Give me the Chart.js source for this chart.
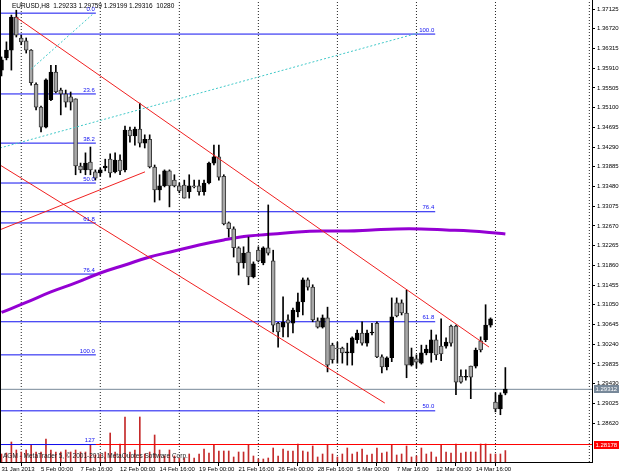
<!DOCTYPE html>
<html><head><meta charset="utf-8">
<script src="https://cdn.jsdelivr.net/npm/chart.js@4.4.1/dist/chart.umd.min.js"></script>
<style>html,body{margin:0;padding:0;background:#fff;}#wrap{width:625px;height:476px;}</style>
</head><body><div id="wrap"><canvas id="c" width="625" height="476"></canvas></div>
<script>
// ---- data (EURUSD, H8) ----
const opens = [1.3587,1.3612,1.3628,1.3696,1.3653,1.3647,1.3628,1.3558,1.3511,1.3470,
1.3526,1.3583,1.3546,1.3538,1.3532,1.3528,1.3390,1.3382,1.3398,1.3378,
1.3376,1.3386,1.3404,1.3378,1.3402,1.3382,1.3464,1.3452,1.3466,1.3437,
1.3445,1.3388,1.3341,1.3349,1.3380,1.3361,1.3349,1.3351,1.3337,1.3349,
1.3349,1.3337,1.3355,1.3396,1.3409,1.3369,1.3273,1.3261,1.3222,1.3191,
1.3213,1.3162,1.3217,1.3191,1.3222,1.3195,1.3067,1.3059,1.3074,1.3067,
1.3090,1.3111,1.3156,1.3141,1.3072,1.3059,1.3078,1.3022,1.3016,1.3016,
1.3006,1.3006,1.3033,1.3047,1.3026,1.3047,1.3067,1.2998,1.2977,1.2996,
1.3109,1.3109,1.3088,1.2981,1.2994,1.2985,1.3006,1.3006,1.3033,1.3020,
1.3020,1.3061,1.3061,1.2958,1.2956,1.2979,1.2979,1.3031,1.3033,1.3063,
1.2905,1.2891,1.29233];
const highs = [1.3614,1.3645,1.3700,1.3710,1.3659,1.3653,1.3629,1.3561,1.3513,1.3569,
1.3597,1.3597,1.3550,1.3546,1.3542,1.3528,1.3396,1.3417,1.3429,1.3382,
1.3386,1.3404,1.3415,1.3417,1.3413,1.3472,1.3470,1.3470,1.3519,1.3454,
1.3454,1.3392,1.3372,1.3382,1.3382,1.3372,1.3355,1.3361,1.3372,1.3361,
1.3361,1.3361,1.3398,1.3433,1.3433,1.3372,1.3275,1.3265,1.3224,1.3224,
1.3244,1.3193,1.3224,1.3224,1.3310,1.3217,1.3069,1.3121,1.3084,1.3098,
1.3129,1.3160,1.3160,1.3146,1.3078,1.3084,1.3100,1.3026,1.3028,1.3018,
1.3026,1.3039,1.3053,1.3070,1.3053,1.3067,1.3070,1.3002,1.2998,1.3119,
1.3119,1.3115,1.3135,1.3016,1.3002,1.3022,1.3022,1.3053,1.3043,1.3076,
1.3037,1.3063,1.3063,1.2971,1.2971,1.2979,1.3016,1.3039,1.3105,1.3078,
1.2924,1.2924,1.29759];
const lows = [1.3575,1.3608,1.3587,1.3655,1.3639,1.3622,1.3556,1.3505,1.3460,1.3468,
1.3524,1.3540,1.3495,1.3511,1.3505,1.3372,1.3376,1.3372,1.3372,1.3361,
1.3369,1.3380,1.3367,1.3376,1.3372,1.3378,1.3439,1.3433,1.3429,1.3427,
1.3386,1.3316,1.3320,1.3347,1.3306,1.3347,1.3335,1.3324,1.3324,1.3345,
1.3330,1.3330,1.3353,1.3392,1.3361,1.3269,1.3244,1.3203,1.3166,1.3180,
1.3146,1.3160,1.3193,1.3187,1.3207,1.3049,1.3018,1.3039,1.3039,1.3047,
1.3080,1.3084,1.3135,1.3070,1.3057,1.3057,1.2967,1.2985,1.2985,1.2985,
1.2981,1.2981,1.3026,1.3022,1.3020,1.3043,1.2996,1.2965,1.2971,1.2988,
1.3080,1.3084,1.2955,1.2979,1.2975,1.2983,1.3002,1.2987,1.2992,1.2990,
1.3016,1.3020,1.2920,1.2944,1.2950,1.2912,1.2975,1.3008,1.3029,1.3059,
1.2885,1.2879,1.29199];
const closes = [1.3608,1.3628,1.3696,1.3659,1.3645,1.3628,1.3561,1.3511,1.3470,1.3567,
1.3583,1.3542,1.3538,1.3521,1.3521,1.3390,1.3382,1.3396,1.3382,1.3365,
1.3382,1.3390,1.3376,1.3402,1.3380,1.3464,1.3452,1.3466,1.3437,1.3445,
1.3388,1.3341,1.3349,1.3380,1.3349,1.3349,1.3339,1.3324,1.3349,1.3347,
1.3337,1.3355,1.3396,1.3409,1.3367,1.3271,1.3261,1.3222,1.3191,1.3211,
1.3162,1.3189,1.3195,1.3222,1.3211,1.3063,1.3049,1.3069,1.3067,1.3094,
1.3111,1.3156,1.3141,1.3074,1.3059,1.3078,1.2981,1.2992,1.3014,1.3006,
1.3008,1.3037,1.3047,1.3026,1.3047,1.3049,1.2998,1.2977,1.2996,1.3080,
1.3082,1.3088,1.2981,1.2998,1.2987,1.3006,1.3014,1.3033,1.3002,1.3004,
1.3028,1.3026,1.2946,1.2946,1.2958,1.2956,1.3012,1.3012,1.3063,1.3076,
1.2891,1.2920,1.29316];
const volumes = [7200,8100,18000,10800,9000,10800,15300,9000,9000,20700,
10800,9000,9000,10800,9000,10800,9000,9000,15300,6300,
7200,9000,26100,9000,16200,40500,9000,10800,40500,7200,
9000,24300,10800,5400,10800,5400,3600,3600,7200,3600,
7200,11700,8100,15300,9900,9900,9900,4500,9000,9000,
15300,5400,2700,2700,3600,12600,5400,11700,9900,9900,
16200,9900,9000,14400,4500,7200,15300,7200,4500,7200,
12600,7200,9000,11700,6300,7200,12600,8100,9000,15300,
6300,7200,14400,4500,5400,12600,7200,9000,4500,15300,
9000,8100,16200,8100,9000,9000,9000,16200,16200,7200,
7200,7200,10280];

const xTickBars = [0,8,16,24,32,40,48,56,64,72,80,88,96];
const xTickLabels = ["31 Jan 2013","5 Feb 00:00","7 Feb 16:00","12 Feb 00:00","14 Feb 16:00","19 Feb 00:00","21 Feb 16:00","26 Feb 00:00","28 Feb 16:00","5 Mar 00:00","7 Mar 16:00","12 Mar 00:00","14 Mar 16:00"];
const yTickValues = [1.37125,1.36720,1.36315,1.35910,1.35505,1.35100,1.34695,1.34290,1.33885,1.33480,1.33075,1.32670,1.32265,1.31860,1.31455,1.31050,1.30645,1.30240,1.29835,1.29430,1.29025,1.28620];
const yTickLabels = ["1.37125","1.36720","1.36315","1.35910","1.35505","1.35100","1.34695","1.34290","1.33885","1.33480","1.33075","1.32670","1.32265","1.31860","1.31455","1.31050","1.30645","1.30240","1.29835","1.29430","1.29025","1.28620"];

const separatorBars = [4,20,36,52,68,84,100,119];
const maBars = [0,5,10,15,20,25,30,35,40,45,50,55,60,65,70,75,80,85,90,95,100,102];
const maValues = [1.30891,1.31096,1.31312,1.31497,1.31702,1.31867,1.32031,1.32154,1.32277,1.32380,1.32462,1.32503,1.32545,1.32565,1.32565,1.32586,1.32606,1.32606,1.32586,1.32565,1.32524,1.32503];

const trendA = [[2.9,1.3696],[98.7,1.3018]];
const trendB = [[-0.3,1.3392],[77.6,1.2903]];
const trendC = [[-0.3,1.3259],[29.05,1.3378]];
const cyanD = [[6,1.3589],[18.7,1.3704]];
const cyanE = [[-0.3,1.3427],[84.3,1.3663]];

const fibLeftLevels = ["0.0","23.6","38.2","50.0","61.8","76.4","100.0","127"];
const fibLeftPrices = [1.3704,1.3538,1.3437,1.3355,1.3273,1.3168,1.3002,1.28178];
const fibLeftEnd = 19.1;
const fibRightLevels = ["100.0","76.4","61.8","50.0"];
const fibRightPrices = [1.3661,1.3296,1.3070,1.2887];
const fibRightEnd = 87.8;

const bidPrice = 1.29312, bidLabel = "1.29312";
const levelPrice = 1.28178, levelLabel = "1.28178";
const headerText = "EURUSD,H8  1.29233 1.29759 1.29199 1.29316  10280";
const footerText = "AGM - MetaTrader 5, \u00A9 2001-2013, MetaQuotes Software Corp.";

// ---- chart ----
const FONT = '"Liberation Sans", Arial, sans-serif';
const yMin = 1.27819, yMax = 1.37310, xMin = -0.304, xMax = 119.54;
const idx = opens.map((_, i) => i);
const bull = i => closes[i] >= opens[i];
const seg = (pts) => pts.map(p => ({x: p[0], y: p[1]}));
const lineDs = (data, color, opts) => Object.assign({type: 'line', data, borderColor: color, borderWidth: 1, pointRadius: 0, fill: false, tension: 0, yAxisID: 'y', xAxisID: 'x'}, opts || {});

const datasets = [];
separatorBars.forEach(s => datasets.push(lineDs([{x: s, y: yMin}, {x: s, y: yMax}], '#222', {borderDash: [1, 2], order: 20})));
datasets.push({type: 'bar', data: idx.map(i => ({x: i, y: volumes[i]})), backgroundColor: '#c42a2a', barThickness: 1, grouped: false, yAxisID: 'yv', order: 19});
datasets.push(lineDs([{x: xMin, y: levelPrice}, {x: xMax, y: levelPrice}], '#ff0000', {order: 18}));
datasets.push(lineDs([{x: xMin, y: bidPrice}, {x: xMax, y: bidPrice}], '#778899', {order: 18}));
fibLeftPrices.forEach(p => datasets.push(lineDs([{x: xMin, y: p}, {x: fibLeftEnd, y: p}], '#1010f0', {order: 17})));
fibRightPrices.forEach(p => datasets.push(lineDs([{x: xMin, y: p}, {x: fibRightEnd, y: p}], '#1010f0', {order: 17})));
datasets.push(lineDs(maBars.map((b, k) => ({x: b, y: maValues[k]})), '#9400d3', {borderWidth: 3, tension: 0.4, order: 16}));
datasets.push({type: 'bar', data: idx.map(i => ({x: i, y: [lows[i], highs[i]]})), backgroundColor: '#000', barThickness: 1, grouped: false, minBarLength: 1, order: 15, yAxisID: 'y'});
datasets.push({type: 'bar', data: idx.map(i => ({x: i, y: [opens[i], closes[i]]})),
  backgroundColor: idx.map(i => bull(i) ? '#000' : '#a8a8a8'),
  borderColor: idx.map(i => bull(i) ? '#000' : '#3a3a3a'),
  borderWidth: 1, borderSkipped: false, barThickness: 4, grouped: false, minBarLength: 1, order: 14, yAxisID: 'y'});
[trendA, trendB, trendC].forEach(t => datasets.push(lineDs(seg(t), '#f02020', {order: 5})));
[cyanD, cyanE].forEach(t => datasets.push(lineDs(seg(t), '#40c8c8', {borderDash: [2, 2], order: 4})));

const overlay = {
  id: 'overlay',
  afterDraw(chart) {
    const ctx = chart.ctx, xs = chart.scales.x, ys = chart.scales.y, ca = chart.chartArea;
    ctx.save();
    // left frame line
    ctx.strokeStyle = '#000'; ctx.lineWidth = 1;
    ctx.beginPath(); ctx.moveTo(ca.left + 0.5, ca.top); ctx.lineTo(ca.left + 0.5, ca.bottom); ctx.stroke();
    // header and footer
    ctx.font = '6.5px ' + FONT; ctx.fillStyle = '#000'; ctx.textAlign = 'left'; ctx.textBaseline = 'middle';
    ctx.fillText(headerText, 12, 6);
    ctx.fillStyle = '#222';
    ctx.fillText(footerText, 3, 456);
    // fib labels
    ctx.font = '6px ' + FONT; ctx.fillStyle = '#1010f0'; ctx.textAlign = 'right'; ctx.textBaseline = 'bottom';
    fibLeftLevels.forEach((t, k) => ctx.fillText(t, xs.getPixelForValue(fibLeftEnd) - 1, ys.getPixelForValue(fibLeftPrices[k]) - 1));
    fibRightLevels.forEach((t, k) => ctx.fillText(t, xs.getPixelForValue(fibRightEnd) - 1, ys.getPixelForValue(fibRightPrices[k]) - 1));
    // price boxes
    const box = (price, bg, text) => {
      const y = Math.round(ys.getPixelForValue(price));
      ctx.fillStyle = bg; ctx.fillRect(ca.right + 2, y - 4, 25, 8);
      ctx.fillStyle = '#fff'; ctx.textAlign = 'left'; ctx.textBaseline = 'middle';
      ctx.font = '6px ' + FONT;
      ctx.fillText(text, ca.right + 3.5, y + 0.5);
    };
    box(bidPrice, '#778899', bidLabel);
    box(levelPrice, '#ff0000', levelLabel);
    ctx.restore();
  }
};

new Chart(document.getElementById('c'), {
  type: 'bar',
  data: {datasets},
  options: {
    responsive: false, animation: false, devicePixelRatio: 1,
    layout: {padding: 0},
    plugins: {legend: {display: false}, tooltip: {enabled: false}},
    scales: {
      x: {
        type: 'linear', min: xMin, max: xMax, offset: false, position: 'bottom',
        afterBuildTicks: s => { s.ticks = xTickBars.map(v => ({value: v})); },
        afterFit: s => { s.height = 14; s.paddingLeft = 0; s.paddingRight = 0; },
        ticks: {autoSkip: false, maxRotation: 0, minRotation: 0, align: 'start', padding: 0, color: '#000',
          font: {family: FONT, size: 6}, callback: (v, i) => xTickLabels[i]},
        grid: {drawOnChartArea: false, drawTicks: true, tickLength: 4, color: '#000'},
        border: {display: true, color: '#000'}
      },
      y: {
        type: 'linear', position: 'right', min: yMin, max: yMax,
        afterBuildTicks: s => { s.ticks = yTickValues.map(v => ({value: v})); },
        afterFit: s => { s.width = 33; s.paddingTop = 0; s.paddingBottom = 0; },
        ticks: {autoSkip: false, padding: 2, color: '#000', font: {family: FONT, size: 6}, callback: (v, i) => yTickLabels[i]},
        grid: {drawOnChartArea: false, tickLength: 3, color: '#000'},
        border: {display: true, color: '#000'}
      },
      yv: {type: 'linear', display: false, min: 0, max: 415800}
    }
  },
  plugins: [overlay]
});
</script>
</body></html>
